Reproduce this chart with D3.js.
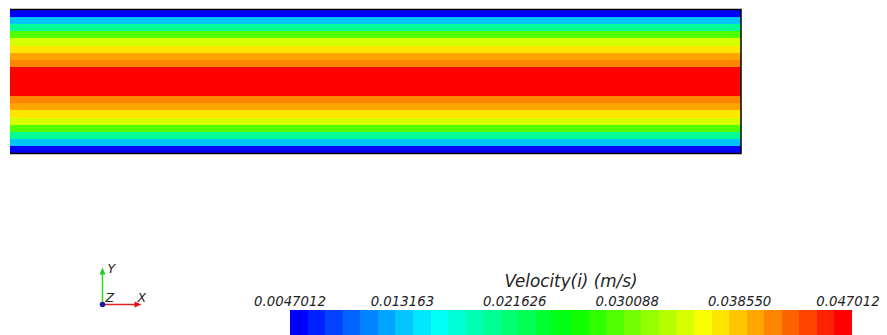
<!DOCTYPE html>
<html>
<head>
<meta charset="utf-8">
<script src="https://cdn.jsdelivr.net/npm/d3@7/dist/d3.min.js"></script>
<style>
  html, body { margin: 0; padding: 0; background: #fff; }
  svg { display: block; }
  text { font-family: "DejaVu Sans", sans-serif; font-style: italic; fill: #222; }
</style>
</head>
<body>
<svg id="chart" width="887" height="335"></svg>
<script>
// Streamwise velocity per cell row across the channel, top wall to bottom wall (m/s)
const velocityRows = [
  0.0047012, 0.01330, 0.01991, 0.02916, 0.03445, 0.03710, 0.03974, 0.04106, 0.04630, 0.047012,
  0.047012, 0.04630, 0.04106, 0.03974, 0.03710, 0.03445, 0.02916, 0.01991, 0.01330, 0.0047012
];
// Scalar range of the colour legend
const velocityRange = [0.0047012, 0.047012];
const tickValues = [0.0047012, 0.013163, 0.021626, 0.030088, 0.038550, 0.047012];
const tickLabels = ["0.0047012", "0.013163", "0.021626", "0.030088", "0.038550", "0.047012"];
const legendTitle = "Velocity(i) (m/s)";
const binCount = 32;

const svg = d3.select("#chart");

// Discrete blue-to-red rainbow lookup table (HSV hue sweep, end bins pure blue / pure red)
const bins = d3.range(binCount);
const binColor = i => d3.hsl(240 * (1 - i / (binCount - 1)), 1, 0.5).toString();
const binScale = d3.scaleQuantize().domain(velocityRange).range(bins);
const colorOf = v => binColor(binScale(v));

// Channel slice coloured by cell velocity
const chX = d3.scaleLinear().domain([0, 1]).range([10, 741]);
const chY = d3.scaleBand().domain(d3.range(velocityRows.length)).range([9.5, 153.5]);

const channel = svg.append("g");
channel.selectAll("rect")
  .data(velocityRows)
  .join("rect")
  .attr("x", chX(0))
  .attr("width", chX(1) - chX(0))
  .attr("y", (d, i) => chY(i))
  .attr("height", chY.bandwidth() + 0.4)
  .attr("fill", d => colorOf(d))
  .attr("shape-rendering", "crispEdges");

const y0 = chY.range()[0], y1 = chY.range()[1];
channel.append("path")
  .attr("d", `M${chX(0)},${y0}H${chX(1)}V${y1}H${chX(0)}`)
  .attr("fill", "none")
  .attr("stroke", "#000")
  .attr("stroke-width", 1.5);

// Colour legend
const barX = d3.scaleLinear().domain(velocityRange).range([290, 852]);
const barBand = d3.scaleBand().domain(bins).range(barX.range());
const legend = svg.append("g");
legend.selectAll("rect")
  .data(bins)
  .join("rect")
  .attr("x", d => barBand(d))
  .attr("width", barBand.bandwidth() + 0.3)
  .attr("y", 310)
  .attr("height", 30)
  .attr("fill", d => binColor(d))
  .attr("shape-rendering", "crispEdges");

legend.selectAll("text.tick")
  .data(tickValues)
  .join("text")
  .attr("class", "tick")
  .attr("x", d => Math.min(barX(d), 848))
  .attr("y", 306)
  .attr("text-anchor", "middle")
  .attr("font-size", 13.3)
  .text((d, i) => tickLabels[i]);

legend.append("text")
  .attr("x", (barX.range()[0] + barX.range()[1]) / 2)
  .attr("y", 287)
  .attr("text-anchor", "middle")
  .attr("font-size", 16.8)
  .text(legendTitle);

// Orientation triad
const triad = svg.append("g").attr("transform", "translate(102.5,304.5)");
triad.append("line").attr("x1", 0).attr("y1", 0).attr("x2", 0).attr("y2", -32)
  .attr("stroke", "#22dd22").attr("stroke-width", 1.5);
triad.append("path").attr("d", "M-3,-30L0,-37L3,-30Z").attr("fill", "#22cc22");
triad.append("line").attr("x1", 0).attr("y1", 0).attr("x2", 33).attr("y2", 0)
  .attr("stroke", "#e02020").attr("stroke-width", 1.5);
triad.append("path").attr("d", "M32,-3L39,0L32,3Z").attr("fill", "#dd1111");
triad.append("circle").attr("r", 2.8).attr("fill", "#1a1aa8");
triad.append("text").attr("x", 5).attr("y", -32).attr("font-size", 12.5).text("Y");
triad.append("text").attr("x", 3).attr("y", -2.5).attr("font-size", 12.5).text("Z");
triad.append("text").attr("x", 35).attr("y", -2.5).attr("font-size", 12.5).text("X");
</script>
</body>
</html>
